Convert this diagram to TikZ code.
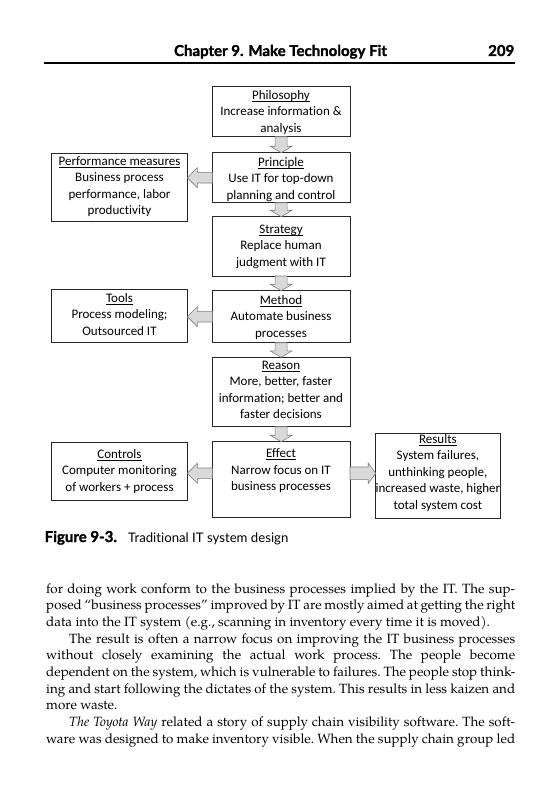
\documentclass[tikz,border=0pt]{standalone}
\usepackage{fontspec}
\usetikzlibrary{calc}
\newfontfamily\dgm[Ligatures=NoCommon]{Carlito}
\newfontfamily\hdr[Ligatures=NoCommon,BoldFeatures={FakeBold=1.6}]{Lato}
\newfontfamily\bodyf{TeX Gyre Pagella}
\newcommand\ulh[1]{\setbox0\hbox{#1}\rlap{\rule[-2.4pt]{\wd0}{0.8pt}}\box0}
\newcommand\txtl[1]{\begin{tabular}[t]{@{}c@{}}#1\end{tabular}}
\newcommand\downarr[2]{\filldraw[blk] ($(#1.south)+(-6,0)$) -- ($(#1.south)+(6,0)$) -- ($(#2.north)+(6,-6.5)$) -- ($(#2.north)+(11,-6.5)$) -- (#2.north) -- ($(#2.north)+(-11,-6.5)$) -- ($(#2.north)+(-6,-6.5)$) -- cycle;}
\begin{document}
\begin{tikzpicture}[x=1pt,y=-1pt,
  frame/.style={draw=black!85,line width=0.9pt,inner sep=0pt,outer sep=0pt},
  dtxt/.style={anchor=base,inner sep=0pt,font=\dgm\fontsize{13}{16.5}\selectfont},
  blk/.style={fill=black!15,draw=black!50,line width=0.6pt},
  hd/.style={anchor=base,inner sep=0pt,font=\hdr\bfseries\fontsize{15}{18}\selectfont},
  captxt/.style={anchor=base west,inner sep=0pt,font=\hdr\fontsize{13.2}{15}\selectfont}]
\useasboundingbox (0,0) rectangle (558,800);
\fill[white] (0,0) rectangle (558,800);
% header
\node[hd] (title) at (280.5,56) {Chapter 9. Make Technology Fit};
\node[hd,anchor=base east] (pageno) at (514.5,56) {209};
\coordinate (rl) at (44,63);
\coordinate (rr) at (515,63);
\draw[line width=1.5pt] (rl) -- (rr);
% boxes
\node[frame,minimum width=137.7pt,minimum height=50.7pt] (philB) at (281.15,111.35) {};
\node[frame,minimum width=137.7pt,minimum height=50pt] (prinB) at (281.15,177.7) {};
\node[frame,minimum width=137.7pt,minimum height=59.3pt] (stratB) at (281.15,246.35) {};
\node[frame,minimum width=137.7pt,minimum height=52pt] (methB) at (281.15,316.7) {};
\node[frame,minimum width=137.7pt,minimum height=69.4pt] (reasB) at (281.15,392) {};
\node[frame,minimum width=137.7pt,minimum height=75.6pt] (effB) at (281.15,479.5) {};
\node[frame,minimum width=135.6pt,minimum height=68.4pt] (perfB) at (119.5,187.5) {};
\node[frame,minimum width=135.6pt,minimum height=53.3pt] (toolsB) at (119.5,315.65) {};
\node[frame,minimum width=135.6pt,minimum height=58.4pt] (ctrlB) at (119.5,471.5) {};
\node[frame,minimum width=124.3pt,minimum height=85pt] (resB) at (437.85,475.8) {};
% texts
\node[dtxt] (philT) at (281,99.3) {\txtl{\ulh{Philosophy}\\Increase information \&\\analysis}};
\node[dtxt] (prinT) at (281,166) {\txtl{\ulh{Principle}\\Use IT for top-down\\planning and control}};
\node[dtxt] (stratT) at (281,233.3) {\txtl{\ulh{Strategy}\\Replace human\\judgment with IT}};
\node[dtxt] (methT) at (281,304) {\txtl{\ulh{Method}\\Automate business\\processes}};
\node[dtxt] (reasT) at (281,369.3) {\txtl{\ulh{Reason}\\More, better, faster\\information; better and\\faster decisions}};
\node[dtxt] (effT) at (281,457.7) {\txtl{\ulh{Effect}\\Narrow focus on IT\\business processes}};
\node[dtxt] (perfT) at (119.5,165) {\txtl{\ulh{Performance measures}\\Business process\\performance, labor\\productivity}};
\node[dtxt] (toolsT) at (119.5,302.3) {\txtl{\ulh{Tools}\\Process modeling;\\Outsourced IT}};
\node[dtxt] (ctrlT) at (119.5,458.3) {\txtl{\ulh{Controls}\\Computer monitoring\\of workers + process}};
\node[dtxt] (resT) at (437.9,443.3) {\txtl{\ulh{Results}\\System failures,\\unthinking people,\\increased waste, higher\\total system cost}};
% down arrows
\downarr{philB}{prinB}
\downarr{prinB}{stratB}
\downarr{stratB}{methB}
\downarr{methB}{reasB}
\downarr{reasB}{effB}
% left arrows
\coordinate (effrow) at (281,473.3);
\foreach \s/\t/\r in {prinB/perfB/prinB.center, methB/toolsB/methB.center, effB/ctrlB/effrow}{
  \coordinate (s) at (\s.west |- \r);
  \coordinate (t) at (\t.east |- \r);
  \filldraw[blk] ($(s)+(0,-5.3)$) -- ($(s)+(0,5.3)$) -- ($(t)+(10,5.3)$) -- ($(t)+(10,10)$) -- (t) -- ($(t)+(10,-10)$) -- ($(t)+(10,-5.3)$) -- cycle;
}
% right arrow
\coordinate (rs) at (effB.east |- effrow);
\coordinate (rt) at (resB.west |- effrow);
\filldraw[blk] ($(rs)+(0,-6.3)$) -- ($(rs)+(0,6.3)$) -- ($(rt)+(-7.5,6.3)$) -- ($(rt)+(-7.5,10.3)$) -- (rt) -- ($(rt)+(-7.5,-10.3)$) -- ($(rt)+(-7.5,-6.3)$) -- cycle;
% caption
\node[captxt,font=\hdr\bfseries\fontsize{15}{17}\selectfont] (figlab) at (44.5,542) {Figure 9-3.};
\node[captxt] (figcap) at (128,542) {Traditional IT system design};
% body text
\node[anchor=base west,inner sep=0pt,font=\bodyf\fontsize{13.4}{16.7}\selectfont] (body) at (46,593) {\begin{minipage}[t]{469pt}\frenchspacing
\hbox to\linewidth{for doing work conform to the business processes implied by the IT. The sup-}
\hbox to\linewidth{posed “business processes” improved by IT are mostly aimed at getting the right}
\hbox to\linewidth{data into the IT system (e.g., scanning in inventory every time it is moved).\hfil}
\hbox to\linewidth{\hskip23pt The result is often a narrow focus on improving the IT business processes}
\hbox to\linewidth{without closely examining the actual work process. The people become}
\hbox to\linewidth{dependent on the system, which is vulnerable to failures. The people stop think-}
\hbox to\linewidth{ing and start following the dictates of the system. This results in less kaizen and}
\hbox to\linewidth{more waste.\hfil}
\hbox to\linewidth{\hskip23pt\textit{The Toyota Way} related a story of supply chain visibility software. The soft-}
\hbox to\linewidth{ware was designed to make inventory visible. When the supply chain group led}
\end{minipage}};
\end{tikzpicture}
\end{document}
